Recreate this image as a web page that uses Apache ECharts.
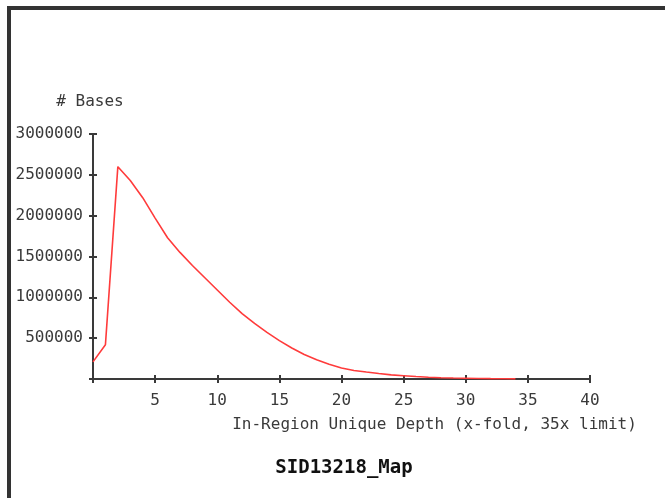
<!DOCTYPE html>
<html>
<head>
<meta charset="utf-8">
<script src="https://cdn.jsdelivr.net/npm/echarts@6/dist/echarts.min.js"></script>
<style>
  html, body { margin: 0; padding: 0; background: #fff; }
  #chart { width: 665px; height: 498px; }
</style>
</head>
<body>
<div id="chart"></div>
<script>
// Depth (x-fold) vs number of bases at that depth
const depth = [0, 1, 2, 3, 4, 5, 6, 7, 8, 9, 10, 11, 12, 13, 14, 15, 16, 17,
  18, 19, 20, 21, 22, 23, 24, 25, 26, 27, 28, 29, 30, 31, 32, 33, 34];
const bases = [210000, 420000, 2600000, 2430000, 2220000, 1970000, 1730000,
  1550000, 1390000, 1240000, 1090000, 940000, 800000, 680000, 570000, 470000,
  380000, 300000, 235000, 180000, 135000, 105000, 85000, 67000, 50000, 40000,
  30000, 22000, 16000, 12000, 9000, 6000, 4000, 3000, 2000];
const xTicks = [0, 40, 5];        // min, max, interval
const yTicks = [0, 3000000, 500000];
const titleText = 'SID13218_Map';
const xName = 'In-Region Unique Depth (x-fold, 35x limit)';
const yName = '# Bases';

const mono = 'DejaVu Sans Mono';
const axisColor = '#3a3a3a';
const textColor = '#3a3a3a';

const chart = echarts.init(document.getElementById('chart'), null, { renderer: 'canvas' });

function xAxisBase(extra) {
  return Object.assign({
    type: 'value', min: xTicks[0], max: xTicks[1], interval: xTicks[2],
    splitLine: { show: false }
  }, extra);
}
function yAxisBase(extra) {
  return Object.assign({
    type: 'value', min: yTicks[0], max: yTicks[1], interval: yTicks[2],
    splitLine: { show: false }
  }, extra);
}

chart.setOption({
  animation: false,
  backgroundColor: '#fff',
  title: {
    text: titleText, left: 339, top: 454, textAlign: 'center',
    textStyle: { fontFamily: mono, fontSize: 19, fontWeight: 'bold', color: '#111' }
  },
  grid: { left: 93, top: 134, right: 75, bottom: 119, containLabel: false, outerBoundsMode: 'none' },
  xAxis: [
    xAxisBase({
      name: xName, nameLocation: 'middle', nameGap: 38,
      nameTextStyle: { fontFamily: mono, fontSize: 16, color: textColor, padding: [0, 0, 0, 186] },
      axisLine: { lineStyle: { color: axisColor, width: 2 } },
      axisTick: { show: false },
      axisLabel: { showMinLabel: false, margin: 14, fontFamily: mono, fontSize: 16, color: textColor }
    }),
    // tick marks that straddle the axis line
    xAxisBase({
      position: 'bottom', offset: -4,
      axisLine: { show: false },
      axisTick: { show: true, inside: false, length: 8, lineStyle: { color: axisColor, width: 2 } },
      axisLabel: { show: false }
    })
  ],
  yAxis: [
    yAxisBase({
      name: yName, nameLocation: 'end', nameGap: 24,
      nameTextStyle: { fontFamily: mono, fontSize: 16, color: textColor, align: 'center', padding: [0, 0, 0, -6] },
      axisLine: { lineStyle: { color: axisColor, width: 2 } },
      axisTick: { show: false },
      axisLabel: {
        showMinLabel: false, margin: 10, fontFamily: mono, fontSize: 16, color: textColor,
        formatter: v => String(v)
      }
    }),
    yAxisBase({
      position: 'left', offset: -4,
      axisLine: { show: false },
      axisTick: { show: true, inside: false, length: 8, lineStyle: { color: axisColor, width: 2 } },
      axisLabel: { show: false }
    })
  ],
  series: [{
    type: 'line',
    xAxisIndex: 0, yAxisIndex: 0,
    data: depth.map((d, i) => [d, bases[i]]),
    showSymbol: false,
    lineStyle: { color: '#ff3b3b', width: 1.6 },
    z: 1
  }],
  graphic: [
    // frame along the left and top edges
    { type: 'rect', shape: { x: 7, y: 6, width: 4, height: 492 }, style: { fill: '#333' } },
    { type: 'rect', shape: { x: 7, y: 6, width: 658, height: 4 }, style: { fill: '#333' } }
  ]
});
</script>
</body>
</html>
